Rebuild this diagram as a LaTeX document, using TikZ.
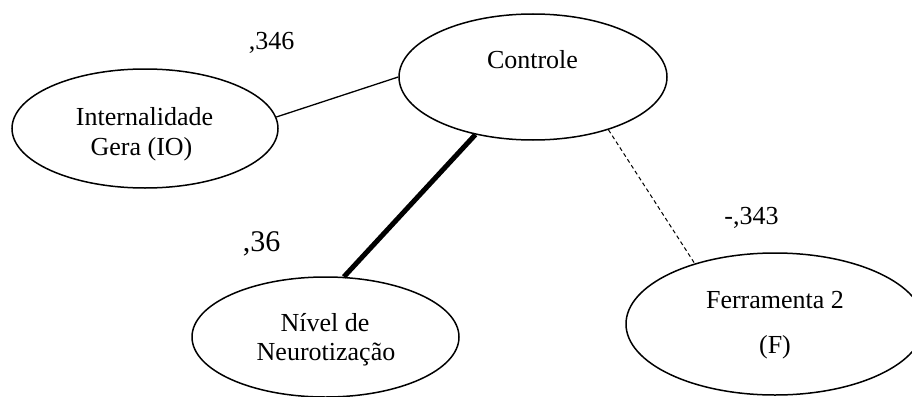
\documentclass[tikz,border=0pt]{standalone}
\usepackage{fontspec}
\setmainfont{Liberation Serif}
\usetikzlibrary{shapes.geometric}
\begin{document}
\begin{tikzpicture}[x=1pt,y=-1pt,
  oval/.style={draw, ellipse, line width=1.5pt, inner sep=0pt},
  lbl/.style={anchor=base, inner sep=0pt, font=\fontsize{26}{30}\selectfont},
  biglbl/.style={anchor=base, inner sep=0pt, font=\fontsize{30}{34}\selectfont},
  thinlink/.style={line width=1.3pt},
  thicklink/.style={line width=5pt},
  dashlink/.style={line width=1pt, dash pattern=on 4pt off 3pt}]
\useasboundingbox (0,0) rectangle (912,396);
\fill[white] (0,0) rectangle (912,396);
\clip (0,0) rectangle (912,396);
% ellipses
\node[oval, minimum width=266pt, minimum height=119pt] (io) at (145,128.5) {};
\node[oval, minimum width=268pt, minimum height=126pt] (ctrl) at (533,77) {};
\node[oval, minimum width=267pt, minimum height=120pt] (niv) at (325.5,337) {};
\node[oval, minimum width=298pt, minimum height=142pt] (ferr) at (775,324) {};
% texts
\node[lbl] (tctrl) at (532.5,69) {Controle};
\node[lbl] (tioa) at (144.5,125) {Internalidade};
\node[lbl] (tiob) at (141.5,155) {Gera (IO)};
\node[lbl] (tniva) at (325,331) {Nível de};
\node[lbl] (tnivb) at (326,360) {Neurotização};
\node[lbl] (tferra) at (775,308) {Ferramenta 2};
\node[lbl] (tferrb) at (775,353) {(F)};
% coefficient labels
\node[lbl] (c1) at (271.5,50) {,346};
\node[biglbl] (c2) at (261.5,251) {,36};
\node[lbl] (c3) at (751.5,224) {-,343};
% connectors
\draw[thinlink] (io.5.8) -- (ctrl.180);
\draw[thicklink] (ctrl.225.5) -- (niv.73.7);
\draw[dashlink] (ctrl.-35.9) -- (ferr.143.2);
\end{tikzpicture}
\end{document}
